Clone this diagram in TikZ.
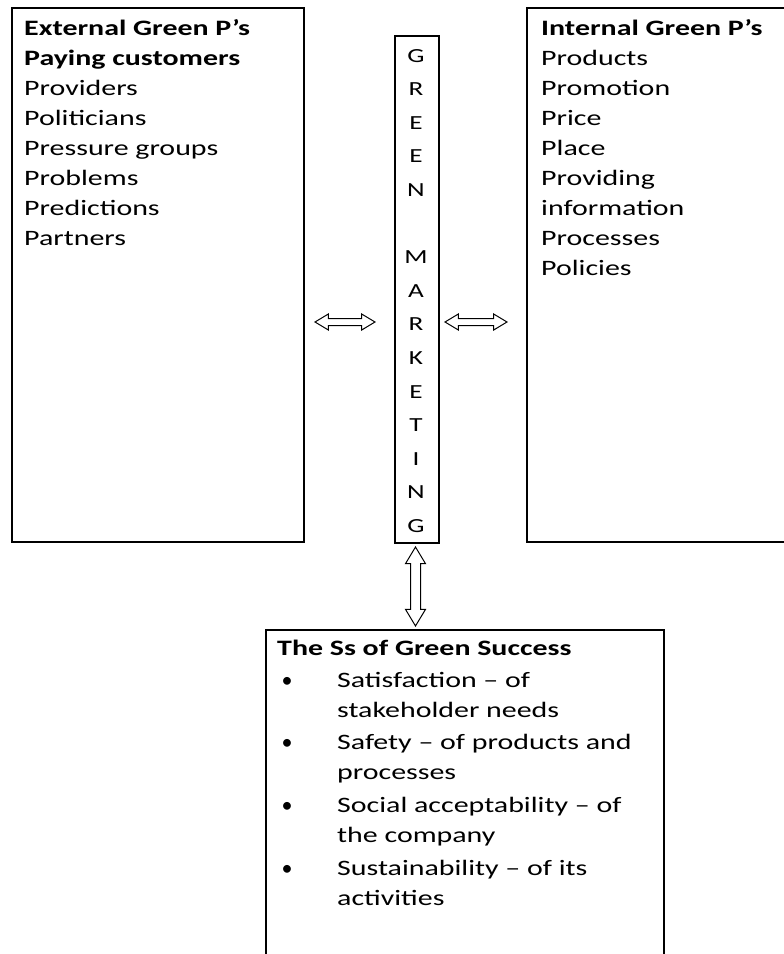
\documentclass[tikz,border=0pt]{standalone}
\usepackage{fontspec}
\setmainfont{Carlito}[FakeStretch=1.36]
\newfontfamily\bulletfont{Carlito}
\usetikzlibrary{shapes.arrows}
\begin{document}
\begin{tikzpicture}[
  x=1pt, y=-1pt,
  every node/.style={font=\fontsize{22}{30}\selectfont},
  panel/.style={draw, line width=1.5pt, anchor=north west, inner sep=0pt},
  lines/.style={anchor=base west, inner sep=0pt},
  dot/.style={anchor=base, inner sep=0pt, font=\fontsize{22}{30}\bulletfont},
  twoway/.style={double arrow, draw, line width=1pt, double arrow tip angle=62}
]
\useasboundingbox (0,0) rectangle (784,954);

% External P's
\node[panel, minimum width=292pt, minimum height=534pt] (ext) at (11,7) {};
\node[lines] (extlist) at (24,35) {\parbox[t]{270pt}{\raggedright
  \textbf{External Green P’s}\\
  \textbf{Paying customers}\\
  Providers\\
  Politicians\\
  Pressure groups\\
  Problems\\
  Predictions\\
  Partners}};

% Green marketing column
\node[panel, minimum width=44pt, minimum height=507pt] (gm) at (394,35) {};
\node[anchor=base, inner sep=0pt, font=\fontsize{20}{33.6}\selectfont] (gmword) at (416,62)
  {\parbox[t]{40pt}{\centering
  G\\R\\E\\E\\N\\\mbox{}\\M\\A\\R\\K\\E\\T\\I\\N\\G}};

% Internal P's
\node[panel, minimum width=300pt, minimum height=534pt] (int) at (526,7) {};
\node[lines] (intlist) at (541,35) {\parbox[t]{230pt}{\raggedright
  \textbf{Internal Green P’s}\\
  Products\\
  Promotion\\
  Price\\
  Place\\
  Providing\\
  information\\
  Processes\\
  Policies}};

% Ss of green success
\node[panel, minimum width=398pt, minimum height=400pt] (ss) at (265,629) {};
\node[lines, font=\fontsize{22}{30}\selectfont\bfseries] (sshead) at (277,655) {The Ss of Green Success};

\node[dot] (b1) at (287,687) {\textbullet};
\node[lines] (s1) at (337,687) {\parbox[t]{320pt}{Satisfaction – of\\stakeholder needs}};
\node[dot] (b2) at (287,749) {\textbullet};
\node[lines] (s2) at (337,749) {\parbox[t]{320pt}{Safety – of products and\\processes}};
\node[dot] (b3) at (287,812) {\textbullet};
\node[lines] (s3) at (337,812) {\parbox[t]{320pt}{Social acceptability – of\\the company}};
\node[dot] (b4) at (287,875) {\textbullet};
\node[lines] (s4) at (337,875) {\parbox[t]{320pt}{Sustainability – of its\\activities}};

% arrows
\node[twoway, minimum height=60pt, minimum width=15pt, inner sep=3pt,
  double arrow head extend=4.5pt] (extarrow) at (345,322) {};
\node[twoway, minimum height=62pt, minimum width=15pt, inner sep=3pt,
  double arrow head extend=4.5pt] (intarrow) at (476,322) {};
\node[twoway, minimum height=79pt, minimum width=19pt, inner sep=4.5pt,
  double arrow head extend=5pt, rotate=90] (ssarrow) at (415.5,586.5) {};

\end{tikzpicture}
\end{document}
